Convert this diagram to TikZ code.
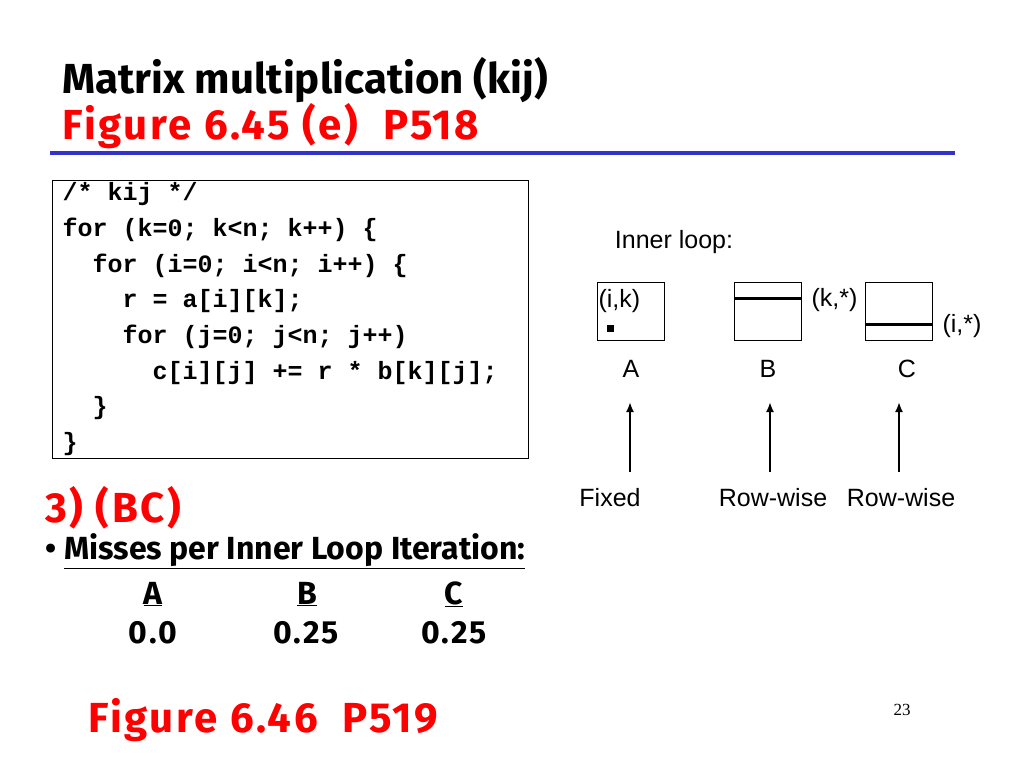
\documentclass[tikz,border=0pt]{standalone}
\usepackage{fontspec}
\usetikzlibrary{arrows.meta}
\setmainfont{Liberation Sans}
\newfontfamily\headfont{Fira Sans}
\newfontfamily\figfont{Fira Sans}[LetterSpace=6]
\newfontfamily\codefont{Liberation Mono}
\newfontfamily\numfont{Liberation Serif}
\definecolor{slidered}{RGB}{255,0,0}
\definecolor{ruleblue}{RGB}{51,51,204}

\tikzset{every path/.style={line width=1.1pt}}
\tikzset{
  head/.style={anchor=west,inner sep=0pt,font=\headfont\bfseries\fontsize{42}{42}\selectfont},
  redhead/.style={anchor=west,inner sep=0pt,color=slidered,font=\figfont\bfseries\fontsize{42}{42}\selectfont},
  body/.style={inner sep=0pt,font=\headfont\bfseries\fontsize{32}{32}\selectfont},
  vals/.style={inner sep=0pt,font=\figfont\bfseries\fontsize{32}{32}\selectfont},
  lbl/.style={inner sep=0pt,font=\fontsize{25}{25}\selectfont},
  matbox/.style={draw,minimum width=67pt,minimum height=58pt,inner sep=0pt,line width=1pt},
}

\begin{document}
\begin{tikzpicture}[x=1pt,y=-1pt]
    \useasboundingbox (0,0) rectangle (1024,768);
    % headings
    \node[head] (title) at (62,80) {Matrix multiplication (kij)};
    \node[redhead] (figref) at (62,126) {Figure 6.45 (e)\ \ P518};
    \coordinate (ruleL) at (50,153);
    \coordinate (ruleR) at (955,153);
    \draw[ruleblue,line width=4pt] (ruleL) -- (ruleR);
    % code
    \node[draw,line width=1pt,anchor=north west,minimum width=476pt,minimum height=278pt] (codebox) at (52,180) {};
    \node[anchor=north west,inner sep=0pt,align=left,
          font=\codefont\bfseries\fontsize{25}{35.7}\selectfont] (code) at (62,182)
    {/* kij */\\
     for (k=0; k<n; k++) \{\\
     \hspace*{1.2em}for (i=0; i<n; i++) \{\\
     \hspace*{2.4em}r = a[i][k];\\
     \hspace*{2.4em}for (j=0; j<n; j++)\\
     \hspace*{3.6em}c[i][j] += r * b[k][j];\\
     \hspace*{1.2em}\}\\
     \}};
    % inner loop picture
    \node[lbl] (inner) at (674,242) {Inner loop:};
    \node[matbox] (boxA) at (631,311) {};
    \node[matbox] (boxB) at (768,311) {};
    \node[matbox] (boxC) at (899,311) {};
    \node[lbl,anchor=north west] (ik) at (598,289) {(i,k)};
    \node[fill,minimum size=7pt,inner sep=0pt] (elem) at (610,328) {};
    \draw[line width=3pt] (boxB.west |- 0,298) -- (boxB.east |- 0,298);
    \draw[line width=3pt] (boxC.west |- 0,324) -- (boxC.east |- 0,324);
    \node[lbl,anchor=west] (kstar) at (811,300) {(k,*)};
    \node[lbl,anchor=west] (istar) at (942,326) {(i,*)};
    \node[lbl] (labA) at (631,369) {A};
    \node[lbl] (labB) at (768,369) {B};
    \node[lbl] (labC) at (907,369) {C};
    \coordinate (tipA) at (630,402);
    \coordinate (tipB) at (770,402);
    \coordinate (tipC) at (899,402);
    \coordinate (tailA) at (630,472);
    \coordinate (tailB) at (770,472);
    \coordinate (tailC) at (899,472);
    \draw[line width=2.5pt,-{Latex[length=10pt,width=8pt]}] (tailA) -- (tipA);
    \draw[line width=2.5pt,-{Latex[length=10pt,width=8pt]}] (tailB) -- (tipB);
    \draw[line width=2.5pt,-{Latex[length=10pt,width=8pt]}] (tailC) -- (tipC);
    \node[lbl] (fixed) at (610,498) {Fixed};
    \node[lbl] (rowB) at (773,498) {Row-wise};
    \node[lbl] (rowC) at (901,498) {Row-wise};
    % misses
    \node[redhead] (case) at (45,508) {3) (BC)};
    \node[body,anchor=west] (misses) at (45,551) {\textbullet\ \underline{Misses per Inner Loop Iteration:}};
    \node[body] (mA) at (153,594) {\underline{A}};
    \node[body] (mB) at (307,594) {\underline{B}};
    \node[body] (mC) at (454,594) {\underline{C}};
    \node[vals] (vA) at (153,633) {0.0};
    \node[vals] (vB) at (306,633) {0.25};
    \node[vals] (vC) at (454,633) {0.25};
    \node[redhead] (nextfig) at (88,720) {Figure 6.46\ \ P519};
    \node[inner sep=0pt,font=\numfont\fontsize{17}{17}\selectfont] (page) at (902,710) {23};
\end{tikzpicture}
\end{document}
